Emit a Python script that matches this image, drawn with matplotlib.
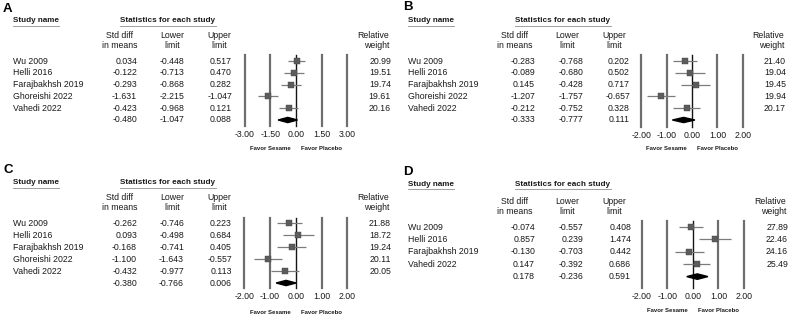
import matplotlib
matplotlib.use("Agg")
import matplotlib.pyplot as plt
from matplotlib.lines import Line2D
from matplotlib.patches import Polygon
import matplotlib.transforms as mtrans
import numpy as np

plt.rcParams['font.family'] = ['Liberation Sans', 'DejaVu Sans']

W, H = 791, 318

# ---------------- data ----------------
names_A = ["Wu 2009", "Helli 2016", "Farajbakhsh 2019", "Ghoreishi 2022", "Vahedi 2022"]
smd_A = [0.034, -0.122, -0.293, -1.631, -0.423]
lo_A = [-0.448, -0.713, -0.868, -2.215, -0.968]
hi_A = [0.517, 0.470, 0.282, -1.047, 0.121]
w_A = [20.99, 19.51, 19.74, 19.61, 20.16]
sum_A = [-0.480, -1.047, 0.088]
ticks_A = [-3.0, -1.5, 0.0, 1.5, 3.0]

names_B = ["Wu 2009", "Helli 2016", "Farajbakhsh 2019", "Ghoreishi 2022", "Vahedi 2022"]
smd_B = [-0.283, -0.089, 0.145, -1.207, -0.212]
lo_B = [-0.768, -0.680, -0.428, -1.757, -0.752]
hi_B = [0.202, 0.502, 0.717, -0.657, 0.328]
w_B = [21.40, 19.04, 19.45, 19.94, 20.17]
sum_B = [-0.333, -0.777, 0.111]
ticks_B = [-2.0, -1.0, 0.0, 1.0, 2.0]

names_C = ["Wu 2009", "Helli 2016", "Farajbakhsh 2019", "Ghoreishi 2022", "Vahedi 2022"]
smd_C = [-0.262, 0.093, -0.168, -1.100, -0.432]
lo_C = [-0.746, -0.498, -0.741, -1.643, -0.977]
hi_C = [0.223, 0.684, 0.405, -0.557, 0.113]
w_C = [21.88, 18.72, 19.24, 20.11, 20.05]
sum_C = [-0.380, -0.766, 0.006]
ticks_C = [-2.0, -1.0, 0.0, 1.0, 2.0]

names_D = ["Wu 2009", "Helli 2016", "Farajbakhsh 2019", "Vahedi 2022"]
smd_D = [-0.074, 0.857, -0.130, 0.147]
lo_D = [-0.557, 0.239, -0.703, -0.392]
hi_D = [0.408, 1.474, 0.442, 0.686]
w_D = [27.89, 22.46, 24.16, 25.49]
sum_D = [0.178, -0.236, 0.591]
ticks_D = [-2.0, -1.0, 0.0, 1.0, 2.0]

fig = plt.figure(figsize=(W / 100, H / 100), dpi=100)
fig.patch.set_facecolor("white")

FS = 6.3
TC = "#1a1a1a"


def fx(x):
    return x / W


def fy(y):
    return 1 - y / H


def txt(x, y, s, **kw):
    kw.setdefault("fontsize", FS)
    kw.setdefault("color", TC)
    kw.setdefault("va", "center")
    fig.text(fx(x), fy(y), s, **kw)


def panel(letter, ox, oy, names, smd, lo, hi, w, summ, ticks, L):
    txt(ox + L["letter"][0], oy + L["letter"][1], letter, fontsize=9.5, fontweight="bold", color="black")
    txt(ox + 13, oy + L["hdr"], "Study name", fontweight="bold", fontsize=5.9)
    txt(ox + 120, oy + L["hdr"], "Statistics for each study", fontweight="bold", fontsize=5.9)
    for (a, b) in [(13, 59), (120, 216)]:
        fig.add_artist(Line2D([fx(ox + a), fx(ox + b)], [fy(oy + L["hdr"] + 4.5)] * 2,
                              color="#a0a0a0", lw=0.7))
    h1, h2 = L["h1"], L["h2"]
    txt(ox + 120, oy + h1, "Std diff", ha="center")
    txt(ox + 120, oy + h2, "in means", ha="center")
    txt(ox + 172, oy + h1, "Lower", ha="center")
    txt(ox + 172, oy + h2, "limit", ha="center")
    txt(ox + 219, oy + h1, "Upper", ha="center")
    txt(ox + 219, oy + h2, "limit", ha="center")
    txt(ox + L["wr"], oy + h1, "Relative", ha="right")
    txt(ox + L["wr"], oy + h2, "weight", ha="right")

    r0, dr = L["r0"], L["dr"]
    n = len(names)
    for i in range(n):
        y = oy + r0 + i * dr
        txt(ox + 13, y, names[i])
        txt(ox + L["c1"], y, f"{smd[i]:.3f}", ha="right")
        txt(ox + L["c2"], y, f"{lo[i]:.3f}", ha="right")
        txt(ox + L["c3"], y, f"{hi[i]:.3f}", ha="right")
        txt(ox + L["wr"] + 2, y, f"{w[i]:.2f}", ha="right")
    y = oy + r0 + n * dr
    txt(ox + L["c1"], y, f"{summ[0]:.3f}", ha="right")
    txt(ox + L["c2"], y, f"{summ[1]:.3f}", ha="right")
    txt(ox + L["c3"], y, f"{summ[2]:.3f}", ha="right")

    # forest axes
    x0, x1 = ox + L["fx0"], ox + L["fx1"]
    y0, y1 = oy + L["fy0"], oy + L["fy1"]
    ax = fig.add_axes([fx(x0), fy(y1), (x1 - x0) / W, (y1 - y0) / H])
    ax.set_xlim(ticks[0], ticks[-1])
    ax.set_ylim((y1 - oy - r0) / dr, (y0 - oy - r0) / dr)
    ax.patch.set_visible(False)
    for s in ax.spines.values():
        s.set_visible(False)
    for t in ticks:
        if t == 0:
            ax.axvline(t, color="#151515", lw=1.0, clip_on=False)
        else:
            ax.axvline(t, color="#6e6e6e", lw=1.6, clip_on=False)
    ax.set_xticks(ticks)
    ax.set_xticklabels([f"{t:.2f}" for t in ticks], fontsize=FS, color=TC)
    ax.tick_params(axis="x", length=0, pad=3.2)
    ax.set_yticks([])
    idx = np.arange(n)
    ax.hlines(idx, lo, hi, color="#7c7c7c", lw=0.9, clip_on=False, zorder=3)
    for i in range(n):
        ax.plot(smd[i], idx[i], marker="s", color="#5c5c5c", mec="#444444", mew=0.3,
                markersize=4.1 * np.sqrt(w[i] / 20.0), clip_on=False, zorder=4)
    hh = 0.22
    ax.add_patch(Polygon([[summ[1], n], [summ[0], n - hh], [summ[2], n], [summ[0], n + hh]],
                         closed=True, color="black", clip_on=False, zorder=4))
    tr = mtrans.blended_transform_factory(ax.transData, fig.transFigure)
    ax.text(ticks[1], fy(oy + L["fav"]), "Favor Sesame", transform=tr, ha="center", va="center",
            fontsize=4.3, fontweight="bold", color=TC)
    ax.text(ticks[3], fy(oy + L["fav"]), "Favor Placebo", transform=tr, ha="center", va="center",
            fontsize=4.3, fontweight="bold", color=TC)


LA = dict(letter=(3, 9), hdr=21, h1=36, h2=45, r0=61, dr=11.8,
          c1=137, c2=184, c3=232, wr=389,
          fx0=244.6, fx1=347.4, fy0=55, fy1=126, fav=149)
LB = dict(letter=(8, 7), hdr=21, h1=36, h2=45, r0=61, dr=11.8,
          c1=140, c2=188, c3=235, wr=389,
          fx0=246.3, fx1=347.9, fy0=55, fy1=127, fav=149)
LC = dict(letter=(3, 10), hdr=23, h1=38, h2=48, r0=63, dr=12.0,
          c1=137, c2=184, c3=232, wr=389,
          fx0=244.3, fx1=347.5, fy0=58, fy1=128, fav=152)
LD = dict(letter=(8, 12), hdr=24, h1=41, h2=51, r0=67, dr=12.4,
          c1=140, c2=188, c3=236, wr=391,
          fx0=246.6, fx1=349.0, fy0=61, fy1=128, fav=151)

panel("A", 0, 0, names_A, smd_A, lo_A, hi_A, w_A, sum_A, ticks_A, LA)
panel("B", 395, 0, names_B, smd_B, lo_B, hi_B, w_B, sum_B, ticks_B, LB)
panel("C", 0, 160, names_C, smd_C, lo_C, hi_C, w_C, sum_C, ticks_C, LC)
panel("D", 395, 160, names_D, smd_D, lo_D, hi_D, w_D, sum_D, ticks_D, LD)

fig.savefig("out.png", dpi=100, facecolor="white")
